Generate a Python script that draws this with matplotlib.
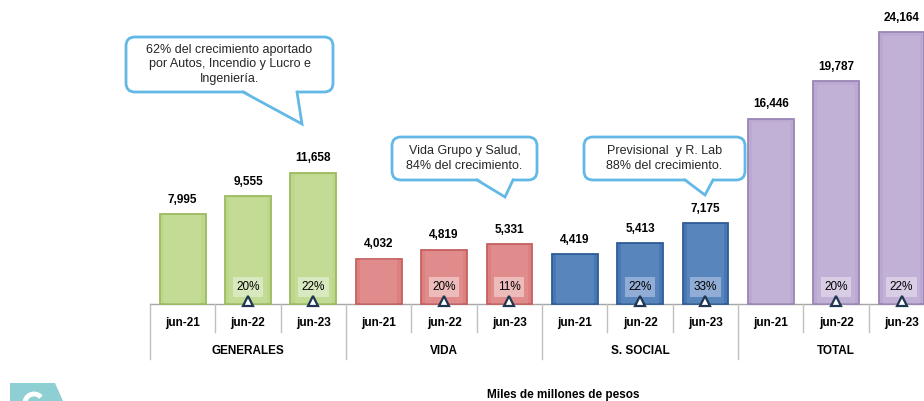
import matplotlib.pyplot as plt
import matplotlib.transforms as mtransforms
from matplotlib.patches import FancyBboxPatch, Polygon, Arc

# datos (miles de millones de pesos)
groups = ['GENERALES', 'VIDA', 'S. SOCIAL', 'TOTAL']
periods = ['jun-21', 'jun-22', 'jun-23']
generales = [7995, 9555, 11658]
vida = [4032, 4819, 5331]
social = [4419, 5413, 7175]
total = [16446, 19787, 24164]
growth_generales = ['20%', '22%']
growth_vida = ['20%', '11%']
growth_social = ['22%', '33%']
growth_total = ['20%', '22%']

series = [generales, vida, social, total]
growth = [growth_generales, growth_vida, growth_social, growth_total]
face = ['#BDD88A', '#DE8080', '#4778B6', '#BBA9D2']
edge = ['#9CBB60', '#C46060', '#2F5C95', '#9A86B6']
pct_bg = ['#D9E9BF', '#EEBBBB', '#92ADD5', '#D8CDE5']

plt.rcParams['font.family'] = ['Liberation Sans', 'DejaVu Sans']

fig = plt.figure(figsize=(9.24, 4.01), dpi=100)
ax = fig.add_axes([0, 0, 1, 1])
ax.set_xlim(-2.295, 11.844)
ax.set_ylim(-8618, 27008)
ax.axis('off')

bw = 0.70
for g, vals in enumerate(series):
    for k, v in enumerate(vals):
        x = g * 3 + k + 0.5
        ax.bar(x, v, width=bw, color=face[g], edgecolor=edge[g], linewidth=1.3, zorder=2)
        # brillo interior
        ax.bar(x, v * 0.985, width=bw * 0.82, color='white', alpha=0.10, linewidth=0, zorder=3)
        ax.text(x, v + 750, f'{v:,}', ha='center', va='bottom', fontsize=8.5,
                fontweight='bold', zorder=4)
        if k > 0:
            ax.text(x, 1510, growth[g][k - 1], ha='center', va='center', fontsize=8.5,
                    zorder=5,
                    bbox=dict(boxstyle='square,pad=0.3', fc=pct_bg[g], ec='none'))
            ax.plot(x, 250, marker='^', ms=7, mfc='white', mec='#1F3550', mew=1.6,
                    zorder=6, clip_on=False)

# tabla de categorias
tr = mtransforms.blended_transform_factory(ax.transData, ax.transAxes)
ax.plot([0, 12], [0.2419, 0.2419], color='#A6A6A6', lw=1, transform=tr, zorder=1)
for i in range(13):
    bottom = 0.105 if i % 3 == 0 else 0.172
    ax.plot([i, i], [0.2419, bottom], color='#BFBFBF', lw=1, transform=tr)
for g, name in enumerate(groups):
    for k, p in enumerate(periods):
        ax.text(g * 3 + k + 0.5, 0.1945, p, ha='center', va='center', fontsize=8.5,
                fontweight='bold', transform=tr)
    ax.text(g * 3 + 1.5, 0.1247, name, ha='center', va='center', fontsize=8.5,
            fontweight='bold', transform=tr)

# capa en pixeles para llamadas
ov = fig.add_axes([0, 0, 1, 1], facecolor='none')
ov.set_xlim(0, 924)
ov.set_ylim(401, 0)
ov.axis('off')

callouts = [
    ((126, 37, 333, 92), (243, 297), (302, 124),
     '62% del crecimiento aportado\npor Autos, Incendio y Lucro e\nIngeniería.'),
    ((392, 137, 537, 180), (477, 513), (505, 197),
     'Vida Grupo y Salud,\n84% del crecimiento.'),
    ((584, 137, 745, 180), (685, 713), (705, 195),
     'Previsional  y R. Lab\n88% del crecimiento.'),
]
blue = '#62B9E6'
for (x0, y0, x1, y1), (b0, b1), (tx, ty), txt in callouts:
    ov.add_patch(FancyBboxPatch((x0, y0), x1 - x0, y1 - y0,
                                boxstyle='round,pad=0,rounding_size=9',
                                fc='white', ec=blue, lw=2, zorder=10))
    ov.add_patch(Polygon([(b0, y1 - 2), (tx, ty), (b1, y1 - 2)], closed=True,
                         fc='white', ec='none', zorder=11))
    ov.plot([b0, tx, b1], [y1, ty, y1], color=blue, lw=2, zorder=12,
            solid_joinstyle='miter')
    ov.text((x0 + x1) / 2, (y0 + y1) / 2, txt, ha='center', va='center',
            fontsize=9, linespacing=1.3, color='#262626', zorder=13)

# logo parcial abajo a la izquierda
ov.add_patch(Polygon([(10, 383), (55, 383), (63, 401), (10, 401)], closed=True,
                     fc='#8ECFD3', ec='none', zorder=10))
ov.add_patch(Arc((34, 403), 18, 18, theta1=-320, theta2=-40, color='white', lw=3.5,
                 zorder=11))

ov.text(563, 395, 'Miles de millones de pesos', ha='center', va='center',
        fontsize=8.5, fontweight='bold')

fig.savefig('out.png', dpi=100)
